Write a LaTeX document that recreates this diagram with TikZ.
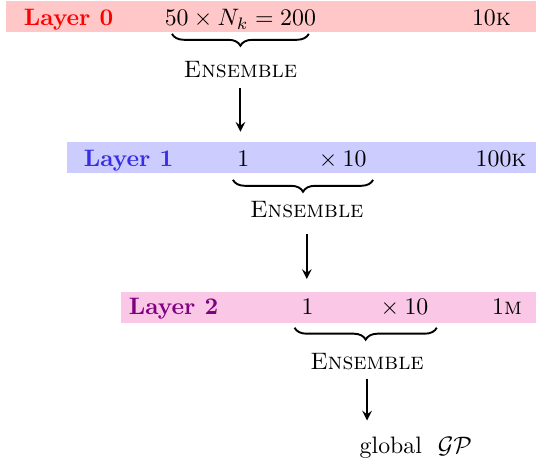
\documentclass[tikz,border=0pt]{standalone}
\usetikzlibrary{decorations.pathreplacing}

\begin{document}
\begin{tikzpicture}[>=stealth, line width = 0.8pt]
    \tikzstyle{bandbox} = [shape = rectangle, anchor = east, inner sep = 0pt, minimum height = 0.46cm]
    \tikzstyle{layername} = [anchor = base west, inner sep = 0pt, font = \bfseries]
    \tikzstyle{layersize} = [anchor = base east, inner sep = 0pt]
    \tikzstyle{members} = [anchor = base, inner sep = 0pt]
    \tikzstyle{ensbrace} = [decorate, decoration = {brace, mirror, amplitude = 5pt}]
    \tikzstyle{enslabel} = [font = \scshape]

    \useasboundingbox (0,0) rectangle (7.93,-6.79);

    % layer 0
    \node[bandbox, fill = red!22, minimum width = 7.83cm] (band0) at (7.93,-0.25) {};
    \node[layername, text = red] (layer0) at (0.34,-0.384) {Layer 0};
    \node[members] (mem0) at (3.55,-0.384) {$50 \times N_k = 200$};
    \node[layersize] (size0) at (7.56,-0.384) {10\textsc{k}};
    \coordinate (brace0a) at (2.54,-0.50);
    \coordinate (brace0b) at (4.56,-0.50);
    \node[enslabel] (ens0) at (3.55,-1.03) {Ensemble};

    % layer 1
    \node[bandbox, fill = blue!20, minimum width = 6.93cm] (band1) at (7.93,-2.33) {};
    \node[layername, text = {rgb,255:red,55;green,45;blue,225}] (layer1) at (1.225,-2.46) {Layer 1};
    \node[members] (mem1) at (4.46,-2.46) {$1 \hspace{27pt} \times 10$};
    \node[layersize] (size1) at (7.79,-2.46) {100\textsc{k}};
    \coordinate (brace1a) at (3.44,-2.656);
    \coordinate (brace1b) at (5.51,-2.656);
    \node[enslabel] (ens1) at (4.53,-3.10) {Ensemble};

    % layer 2
    \node[bandbox, fill = magenta!22, minimum width = 6.13cm] (band2) at (7.93,-4.54) {};
    \node[layername, text = violet] (layer2) at (1.89,-4.65) {Layer 2};
    \node[members] (mem2) at (5.39,-4.65) {$1 \hspace{26pt} \times 10$};
    \node[layersize] (size2) at (7.72,-4.65) {1\textsc{m}};
    \coordinate (brace2a) at (4.35,-4.84);
    \coordinate (brace2b) at (6.45,-4.84);
    \node[enslabel] (ens2) at (5.42,-5.34) {Ensemble};

    \node[anchor = base] (gp) at (6.14,-6.69) {global\ \ $\mathcal{GP}$};

    \draw[ensbrace] (brace0a) -- (brace0b);
    \draw[ensbrace] (brace1a) -- (brace1b);
    \draw[ensbrace] (brace2a) -- (brace2b);

    \draw[->, shorten <= 0.5pt, shorten >= 4pt] (ens0) -- (ens0 |- band1.north);
    \draw[->, shorten <= 3pt, shorten >= 5pt] (ens1) -- (ens1 |- band2.north);
    \draw[->, shorten <= 0pt, shorten >= 3pt] (ens2) -- (ens2 |- gp.north);
\end{tikzpicture}
\end{document}
